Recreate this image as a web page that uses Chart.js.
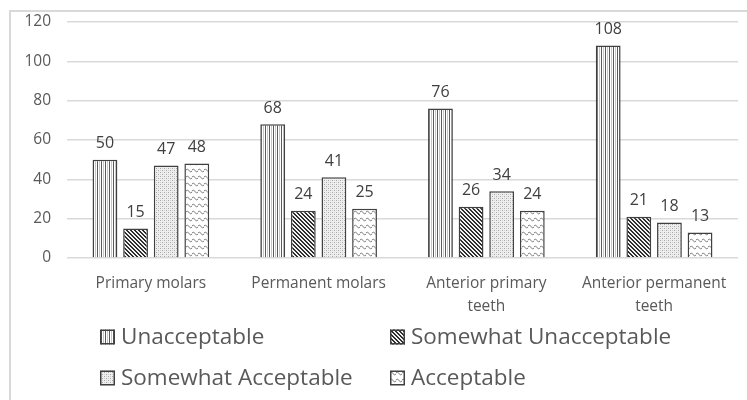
<!DOCTYPE html>
<html>
<head>
<meta charset="utf-8">
<script src="https://cdn.jsdelivr.net/npm/chart.js@4.4.1/dist/chart.umd.min.js"></script>
<style>
  html, body { margin: 0; padding: 0; background: #fff; }
  #wrap { width: 747px; height: 400px; position: relative; }
  canvas { display: block; }
</style>
</head>
<body>
<div id="wrap"><canvas id="c" width="747" height="400"></canvas></div>
<script>
// Tooth groups on the x axis (multi-line where the label wraps)
const categories = [
  ['Primary molars'],
  ['Permanent molars'],
  ['Anterior primary', 'teeth'],
  ['Anterior permanent', 'teeth']
];
const seriesNames = ['Unacceptable', 'Somewhat Unacceptable', 'Somewhat Acceptable', 'Acceptable'];
const unacceptable = [50, 68, 76, 108];
const somewhatUnacceptable = [15, 24, 26, 21];
const somewhatAcceptable = [47, 41, 34, 18];
const acceptable = [48, 25, 24, 13];
const yTicks = [0, 20, 40, 60, 80, 100, 120];

const seriesData = [unacceptable, somewhatUnacceptable, somewhatAcceptable, acceptable];

const FONT = '"Open Sans", "Noto Sans", sans-serif';
const TEXT = '#595959';

// Monochrome fill patterns, one per rating
function makePattern(kind) {
  const t = document.createElement('canvas');
  const g = t.getContext('2d');
  if (kind === 'vertical') {
    t.width = 4; t.height = 4;
    g.fillStyle = '#ffffff'; g.fillRect(0, 0, 4, 4);
    g.fillStyle = '#5a5a5a'; g.fillRect(1, 0, 1, 4);
    g.fillStyle = '#c4c4c4'; g.fillRect(3, 0, 1, 4);
  } else if (kind === 'darkDiag') {
    t.width = 4; t.height = 4;
    g.fillStyle = '#f2f2f2'; g.fillRect(0, 0, 4, 4);
    g.fillStyle = '#2e2e2e';
    for (let i = 0; i < 4; i++) {
      g.fillRect(i, i, 1, 1);
      g.fillRect((i + 1) % 4, i, 1, 1);
    }
  } else if (kind === 'dots') {
    t.width = 4; t.height = 4;
    g.fillStyle = '#efefef'; g.fillRect(0, 0, 4, 4);
    g.fillStyle = '#a6a6a6';
    g.fillRect(0, 0, 1, 1);
    g.fillRect(2, 2, 1, 1);
    g.fillStyle = '#d2d2d2';
    g.fillRect(2, 0, 1, 1);
    g.fillRect(0, 2, 1, 1);
  } else if (kind === 'wave') {
    t.width = 6; t.height = 7;
    g.fillStyle = '#ffffff'; g.fillRect(0, 0, 6, 7);
    g.strokeStyle = '#7a7a7a'; g.lineWidth = 1;
    g.beginPath();
    g.moveTo(0, 2); g.lineTo(1.5, 1); g.lineTo(4.5, 4); g.lineTo(6, 3);
    g.stroke();
  }
  return g.createPattern(t, 'repeat');
}

const patternKinds = ['vertical', 'darkDiag', 'dots', 'wave'];
const patterns = patternKinds.map(makePattern);

// Light frame around the chart area of the figure
const framePlugin = {
  id: 'frame',
  beforeDraw(chart) {
    const c = chart.ctx;
    c.save();
    c.fillStyle = '#ffffff';
    c.fillRect(0, 0, chart.width, chart.height);
    c.strokeStyle = '#d9d9d9';
    c.lineWidth = 2;
    c.strokeRect(10, 11, chart.width + 20, chart.height + 20);
    c.restore();
  }
};

// Value printed above each bar
const valueLabels = {
  id: 'valueLabels',
  afterDatasetsDraw(chart) {
    const c = chart.ctx;
    c.save();
    c.font = '16px ' + FONT;
    c.fillStyle = '#404040';
    c.textAlign = 'center';
    c.textBaseline = 'middle';
    chart.data.datasets.forEach((ds, di) => {
      chart.getDatasetMeta(di).data.forEach((bar, i) => {
        c.fillText(String(ds.data[i]), bar.x, bar.y - 16);
      });
    });
    c.restore();
  }
};

// Two-column legend under the axis
const gridLegend = {
  id: 'gridLegend',
  afterDraw(chart) {
    const c = chart.ctx;
    const cols = [100, 390];
    const rows = [337, 378];
    const box = 15;
    c.save();
    c.font = '22.5px ' + FONT;
    c.textBaseline = 'middle';
    c.textAlign = 'left';
    chart.data.datasets.forEach((ds, i) => {
      const x = cols[i % 2];
      const y = rows[Math.floor(i / 2)];
      c.fillStyle = ds.backgroundColor;
      c.fillRect(x, y - box / 2, box, box);
      c.strokeStyle = '#404040';
      c.lineWidth = 1.5;
      c.strokeRect(x + 0.75, y - box / 2 + 0.75, box - 1.5, box - 1.5);
      c.fillStyle = TEXT;
      c.fillText(ds.label, x + 21, y + 1);
    });
    c.restore();
  }
};

const ctx = document.getElementById('c').getContext('2d');
new Chart(ctx, {
  type: 'bar',
  data: {
    labels: categories,
    datasets: seriesNames.map((name, i) => ({
      label: name,
      data: seriesData[i],
      backgroundColor: patterns[i],
      borderColor: '#404040',
      borderWidth: 1.5,
      categoryPercentage: 0.73,
      barPercentage: 0.81
    }))
  },
  options: {
    responsive: false,
    animation: false,
    devicePixelRatio: 1,
    layout: { padding: { left: 0, right: 9, top: 22, bottom: 0 } },
    plugins: { legend: { display: false }, tooltip: { enabled: false } },
    scales: {
      x: {
        grid: { display: false, drawTicks: false },
        border: { display: false },
        ticks: {
          color: TEXT,
          font: { family: FONT, size: 15.5, lineHeight: 1.5 },
          padding: 14,
          maxRotation: 0,
          autoSkip: false
        },
        afterFit(s) { s.height = 142; }
      },
      y: {
        min: 0,
        max: 120,
        afterBuildTicks(s) { s.ticks = yTicks.map(v => ({ value: v })); },
        grid: { color: '#d9d9d9', lineWidth: 1.5, drawTicks: false },
        border: { display: false },
        ticks: {
          color: TEXT,
          font: { family: FONT, size: 15.5 },
          padding: 16
        },
        afterFit(s) { s.width = 67; s.paddingTop = 0; s.paddingBottom = 0; }
      }
    }
  },
  plugins: [framePlugin, valueLabels, gridLegend]
});
</script>
</body>
</html>
